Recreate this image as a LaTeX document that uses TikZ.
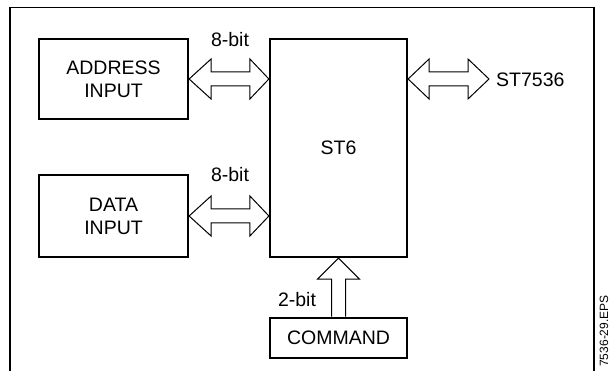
\documentclass[tikz,border=0pt]{standalone}
\usepackage{fontspec}
\setmainfont{Liberation Sans}
\usetikzlibrary{calc}
\begin{document}
\begin{tikzpicture}[x=1pt,y=1pt,
  blk/.style={draw, line width=2.2pt, inner sep=0pt, align=center, font=\fontsize{19.5}{23}\selectfont},
  lbl/.style={inner sep=0pt, font=\fontsize{19.5}{23}\selectfont},
  bus/.style={draw, line width=1pt, fill=white, line join=miter}]
\useasboundingbox (0,0) rectangle (611,371);
% frame
\draw[line width=1.2pt] (10,-5) -- (10,363.5) -- (594,363.5) -- (594,-5);
% blocks
\node[blk, minimum width=149pt, minimum height=80pt] (addr) at (113.5,292) {ADDRESS\\INPUT};
\node[blk, minimum width=149pt, minimum height=82pt] (data) at (113.5,155) {DATA\\INPUT};
\node[blk, minimum width=137pt, minimum height=218pt] (st6) at (338.5,223) {ST6};
\node[blk, line width=2.8pt, minimum width=137pt, minimum height=40pt] (cmd) at (338.5,33) {COMMAND};
% labels
\node[lbl] (l8a) at (230,331) {8-bit};
\node[lbl] (l8b) at (230,196) {8-bit};
\node[lbl, anchor=west] (ext) at (496,291) {ST7536};
\node[lbl] (l2) at (297,71) {2-bit};
\node[inner sep=0pt, rotate=90, font=\fontsize{12}{13}\selectfont] (eps) at (604,40) {7536-29.EPS};
% buses
\newcommand\hbus[4]{%
  \draw[bus] let \p1=(#1), \p2=(#2) in
    (\x1,\y1) -- (\x1+#3,\y1+20pt) -- (\x1+#3,\y1+7pt) -- (\x2-#4,\y1+7pt) -- (\x2-#4,\y1+20pt)
    -- (\x2,\y1) -- (\x2-#4,\y1-20pt) -- (\x2-#4,\y1-7pt) -- (\x1+#3,\y1-7pt) -- (\x1+#3,\y1-20pt) -- cycle;}
\hbus{addr.east}{addr.east -| st6.west}{22pt}{19pt}
\hbus{data.east}{data.east -| st6.west}{22pt}{19pt}
\coordinate (extp) at ($(ext.west)+(-7,0)$);
\hbus{addr.east -| st6.east}{addr.east -| extp}{21pt}{21pt}
\draw[bus] let \p1=(cmd.north), \p2=(st6.south) in
  (\x1-7pt,\y1) -- (\x1-7pt,\y2-21pt) -- (\x1-21pt,\y2-21pt) -- (\x2,\y2)
  -- (\x1+21pt,\y2-21pt) -- (\x1+7pt,\y2-21pt) -- (\x1+7pt,\y1);
\end{tikzpicture}
\end{document}
